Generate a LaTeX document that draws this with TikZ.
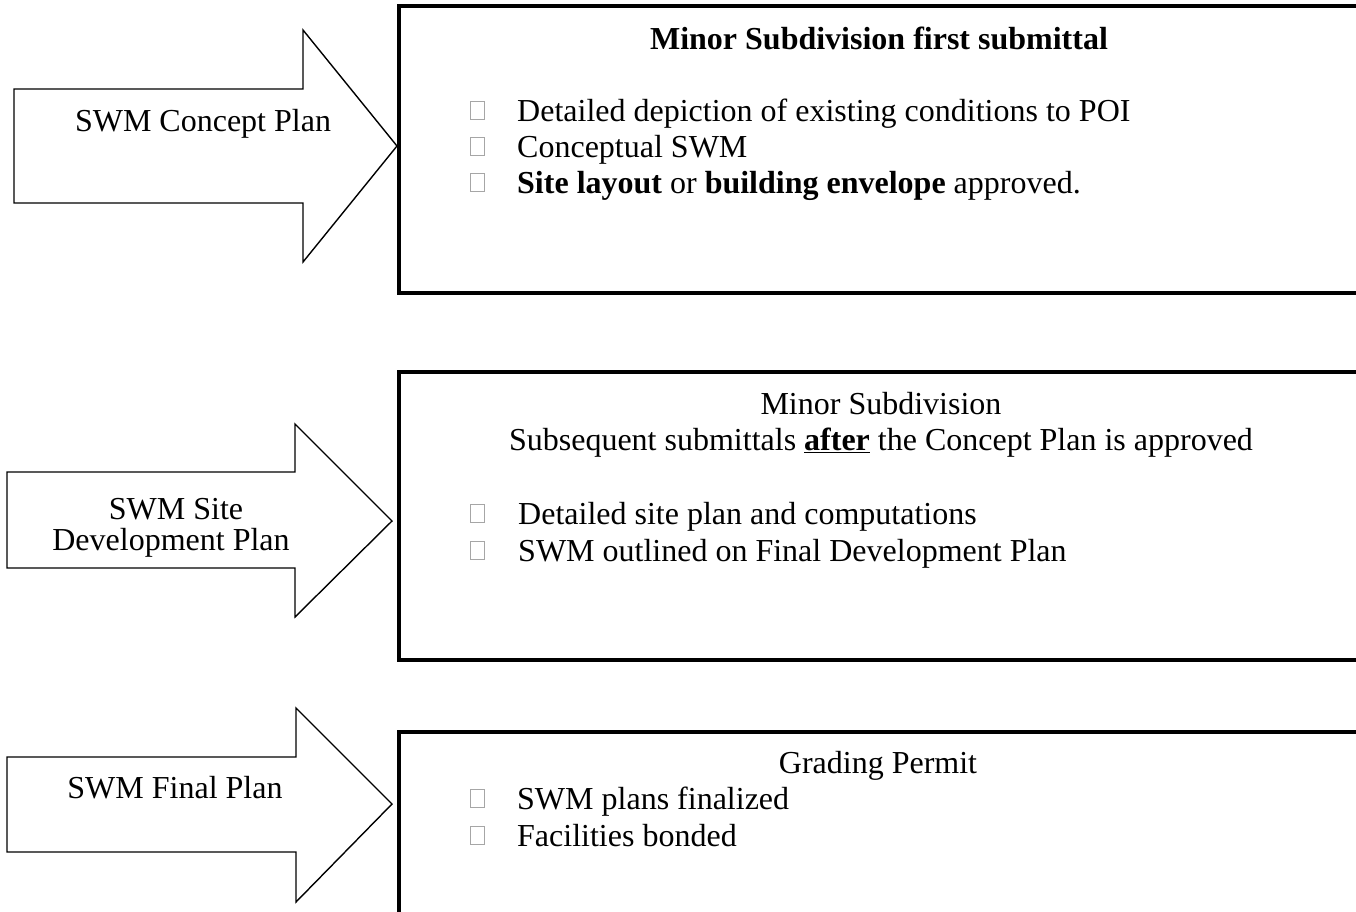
\documentclass[tikz,border=0pt]{standalone}
\usepackage{fontspec}
\setmainfont{Liberation Serif}
\begin{document}
\begin{tikzpicture}[x=1pt,y=-1pt,
  bigarrow/.style={draw=black,line width=1.4pt,fill=white,line join=miter},
  stepbox/.style={draw=black,line width=4pt},
  txt/.style={anchor=base,inner sep=0pt,font=\fontsize{32}{37}\selectfont},
  ltxt/.style={anchor=base west,inner sep=0pt,font=\fontsize{32}{37}\selectfont},
  sq/.style={draw=gray!70,line width=0.8pt,minimum width=14pt,minimum height=18pt,inner sep=0pt,anchor=south west}]
\useasboundingbox (0,0) rectangle (1356,911);
\clip (0,0) rectangle (1356,911);
\fill[white] (0,0) rectangle (1356,911);
% arrows
\draw[bigarrow] (14,89) -- (303,89) -- (303,30) -- (397,146) -- (303,262) -- (303,203) -- (14,203) -- cycle;
\draw[bigarrow] (7,472) -- (295,472) -- (295,424) -- (392,521) -- (295,617) -- (295,568) -- (7,568) -- cycle;
\draw[bigarrow] (7,757) -- (296,757) -- (296,708) -- (392,804) -- (296,902) -- (296,852) -- (7,852) -- cycle;
\node[txt] (a1) at (203,131) {SWM Concept Plan};
\node[txt] (a2a) at (176,519) {SWM Site};
\node[txt] (a2b) at (171,550) {Development Plan};
\node[txt] (a3) at (175,798) {SWM Final Plan};
% boxes
\draw[stepbox] (399,6) rectangle (1362,293);
\draw[stepbox] (399,372) rectangle (1362,660);
\draw[stepbox] (399,732) rectangle (1362,1020);
% box 1
\node[txt,font=\fontsize{32}{37}\selectfont\bfseries] (t1) at (879,49) {Minor Subdivision first submittal};
\node[sq] (s11) at (470,120) {};
\node[ltxt] (l11) at (517,121) {Detailed depiction of existing conditions to POI};
\node[sq] (s12) at (470,156) {};
\node[ltxt] (l12) at (517,157) {Conceptual SWM};
\node[sq] (s13) at (470,192) {};
\node[ltxt] (l13) at (517,193) {\textbf{Site layout} or \textbf{building envelope} approved.};
% box 2
\node[txt] (t2a) at (881,414) {Minor Subdivision};
\node[txt] (t2b) at (881,450) {Subsequent submittals \underline{\textbf{after}} the Concept Plan is approved};
\node[sq] (s21) at (470,523) {};
\node[ltxt] (l21) at (518,524) {Detailed site plan and computations};
\node[sq] (s22) at (470,560) {};
\node[ltxt] (l22) at (518,561) {SWM outlined on Final Development Plan};
% box 3
\node[txt] (t3) at (878,773) {Grading Permit};
\node[sq] (s31) at (470,808) {};
\node[ltxt] (l31) at (517,809) {SWM plans finalized};
\node[sq] (s32) at (470,845) {};
\node[ltxt] (l32) at (517,846) {Facilities bonded};
\end{tikzpicture}
\end{document}
